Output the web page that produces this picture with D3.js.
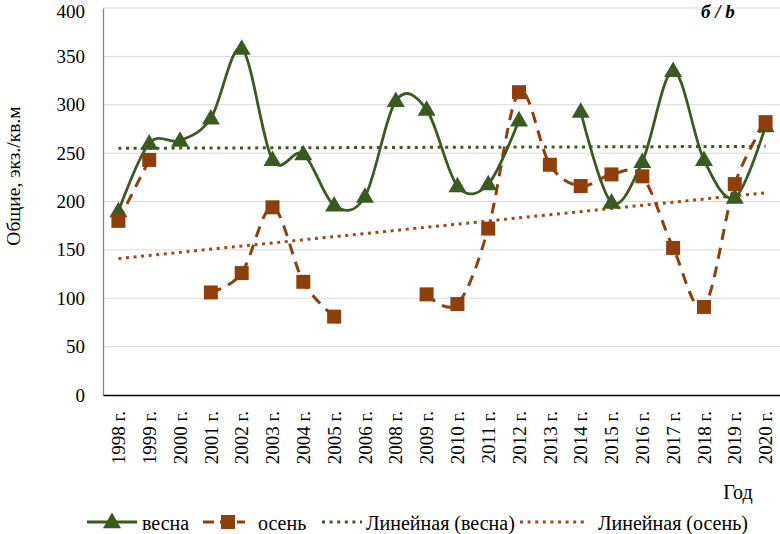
<!DOCTYPE html>
<html>
<head>
<meta charset="utf-8">
<script src="https://cdnjs.cloudflare.com/ajax/libs/d3/7.8.5/d3.min.js"></script>
<style>
  body { margin: 0; background: #fff; }
  svg text { font-family: 'Liberation Serif', 'Times New Roman', Times, 'DejaVu Serif', serif !important; fill: #000; }
</style>
</head>
<body>
<script>
// categories (no 2007 in the source)
var years = ['1998 г.', '1999 г.', '2000 г.', '2001 г.', '2002 г.', '2003 г.', '2004 г.', '2005 г.',
  '2006 г.', '2008 г.', '2009 г.', '2010 г.', '2011 г.', '2012 г.', '2013 г.', '2014 г.',
  '2015 г.', '2016 г.', '2017 г.', '2018 г.', '2019 г.', '2020 г.']

// spring values, null = no data
var spring = [190, 260, 263, 286, 358, 243, 249, 196, 205, 304, 295, 216, 218, 284, null, 293,
  199, 241, 335, 243, 204, 278]

// autumn values
var autumn = [180, 243, null, 106, 126, 194, 117, 81, null, null, 104, 94, 172, 313, 238, 216,
  228, 226, 152, 91, 218, 282]

// linear trend lines: values at first and last category
var trendSpring = [255, 257]
var trendAutumn = [141, 209]

var yTicks = [0, 50, 100, 150, 200, 250, 300, 350, 400]

var legendLabels = ['весна', 'осень', 'Линейная (весна)', 'Линейная (осень)']

var green = '#3a5a22'
var brown = '#8e3f0b'
var serif = "'Liberation Serif', 'Times New Roman', Times, serif"

var width = 780
var height = 534

var svg = d3.select('body').append('svg')
  .attr('width', width)
  .attr('height', height)
  .attr('font-family', serif)

var x = d3.scaleBand().domain(years).range([103, 781])
var y = d3.scaleLinear().domain([0, 400]).range([395, 8])

function cx (i) { return x(years[i]) + x.bandwidth() / 2 }

// gridlines
svg.append('g')
  .selectAll('line')
  .data(yTicks.slice(1))
  .enter().append('line')
  .attr('x1', 103)
  .attr('x2', 781)
  .attr('y1', function (d) { return y(d) })
  .attr('y2', function (d) { return y(d) })
  .attr('stroke', '#d9d9d9')
  .attr('stroke-width', 1)

// y axis
var yAxis = d3.axisLeft(y).tickValues(yTicks).tickSize(0).tickPadding(18)
var yg = svg.append('g')
  .attr('transform', 'translate(103,0)')
  .call(yAxis)
  .attr('font-family', serif)
yg.select('.domain').attr('stroke', '#868686').attr('stroke-width', 1.3)
yg.selectAll('text').style('font-size', '19px')
// keep the top label inside the picture
yg.selectAll('.tick').filter(function (d) { return d === 400 }).select('text').attr('y', 3)

// x axis
var xAxis = d3.axisBottom(x).tickSize(0).tickPadding(0)
var xg = svg.append('g')
  .attr('transform', 'translate(0,395)')
  .call(xAxis)
  .attr('font-family', serif)
xg.select('.domain').attr('stroke', '#000').attr('stroke-width', 1.3)
xg.selectAll('text')
  .style('font-size', '19px')
  .attr('text-anchor', 'end')
  .attr('transform', 'translate(0,16) rotate(-90)')
  .attr('dy', '0.35em')
  .attr('y', 0)
  .attr('x', 0)

// trend lines
function trend (vals, color) {
  svg.append('line')
    .attr('x1', cx(0))
    .attr('x2', cx(years.length - 1))
    .attr('y1', y(vals[0]))
    .attr('y2', y(vals[1]))
    .attr('stroke', color)
    .attr('stroke-width', 3)
    .attr('stroke-dasharray', '3 4.6')
}
trend(trendSpring, green)
trend(trendAutumn, '#9a4a1c')

// smoothed lines
var line = d3.line()
  .defined(function (d) { return d !== null })
  .x(function (d, i) { return cx(i) })
  .y(function (d) { return y(d) })
  .curve(d3.curveCardinal.tension(0))

svg.append('path')
  .attr('d', line(autumn))
  .attr('fill', 'none')
  .attr('stroke', brown)
  .attr('stroke-width', 3)
  .attr('stroke-dasharray', '11 8')

svg.append('path')
  .attr('d', line(spring))
  .attr('fill', 'none')
  .attr('stroke', green)
  .attr('stroke-width', 2.8)

var tri = d3.symbol().type(d3.symbolTriangle).size(140)

var springPts = spring.map(function (v, i) { return { v: v, i: i } }).filter(function (d) { return d.v !== null })
var autumnPts = autumn.map(function (v, i) { return { v: v, i: i } }).filter(function (d) { return d.v !== null })

svg.append('g').selectAll('path')
  .data(springPts)
  .enter().append('path')
  .attr('d', tri)
  .attr('transform', function (d) { return 'translate(' + cx(d.i) + ',' + (y(d.v) + 1) + ')' })
  .attr('fill', green)

svg.append('g').selectAll('rect')
  .data(autumnPts)
  .enter().append('rect')
  .attr('x', function (d) { return cx(d.i) - 7 })
  .attr('y', function (d) { return y(d.v) - 7 })
  .attr('width', 14)
  .attr('height', 14)
  .attr('fill', brown)

// titles
svg.append('text')
  .attr('transform', 'translate(20,176) rotate(-90)')
  .attr('text-anchor', 'middle')
  .style('font-size', '19.5px')
  .text('Общие, экз./кв.м')

svg.append('text')
  .attr('x', 738)
  .attr('y', 499)
  .attr('text-anchor', 'middle')
  .style('font-size', '20px')
  .text('Год')

svg.append('text')
  .attr('x', 718)
  .attr('y', 18)
  .attr('text-anchor', 'middle')
  .style('font-size', '19px')
  .style('font-weight', 'bold')
  .style('font-style', 'italic')
  .text('б / b')

// legend
var ly = 522
var lg = svg.append('g')
lg.append('line').attr('x1', 87).attr('x2', 137).attr('y1', ly).attr('y2', ly)
  .attr('stroke', green).attr('stroke-width', 2.8)
lg.append('path').attr('d', tri).attr('transform', 'translate(112,' + (ly + 1) + ')').attr('fill', green)
lg.append('line').attr('x1', 203).attr('x2', 245).attr('y1', ly).attr('y2', ly)
  .attr('stroke', brown).attr('stroke-width', 3).attr('stroke-dasharray', '11 6')
lg.append('rect').attr('x', 221).attr('y', ly - 7).attr('width', 14).attr('height', 14).attr('fill', brown)
lg.append('line').attr('x1', 322).attr('x2', 362).attr('y1', ly).attr('y2', ly)
  .attr('stroke', green).attr('stroke-width', 3).attr('stroke-dasharray', '3 4.6')
lg.append('line').attr('x1', 520).attr('x2', 588).attr('y1', ly).attr('y2', ly)
  .attr('stroke', '#9a4a1c').attr('stroke-width', 3).attr('stroke-dasharray', '3 4.6')

var lx = [142, 258, 366, 598]
lg.selectAll('text')
  .data(legendLabels)
  .enter().append('text')
  .attr('x', function (d, i) { return lx[i] })
  .attr('y', ly + 1)
  .attr('dy', '0.35em')
  .style('font-size', '20px')
  .text(function (d) { return d })
</script>
</body>
</html>
